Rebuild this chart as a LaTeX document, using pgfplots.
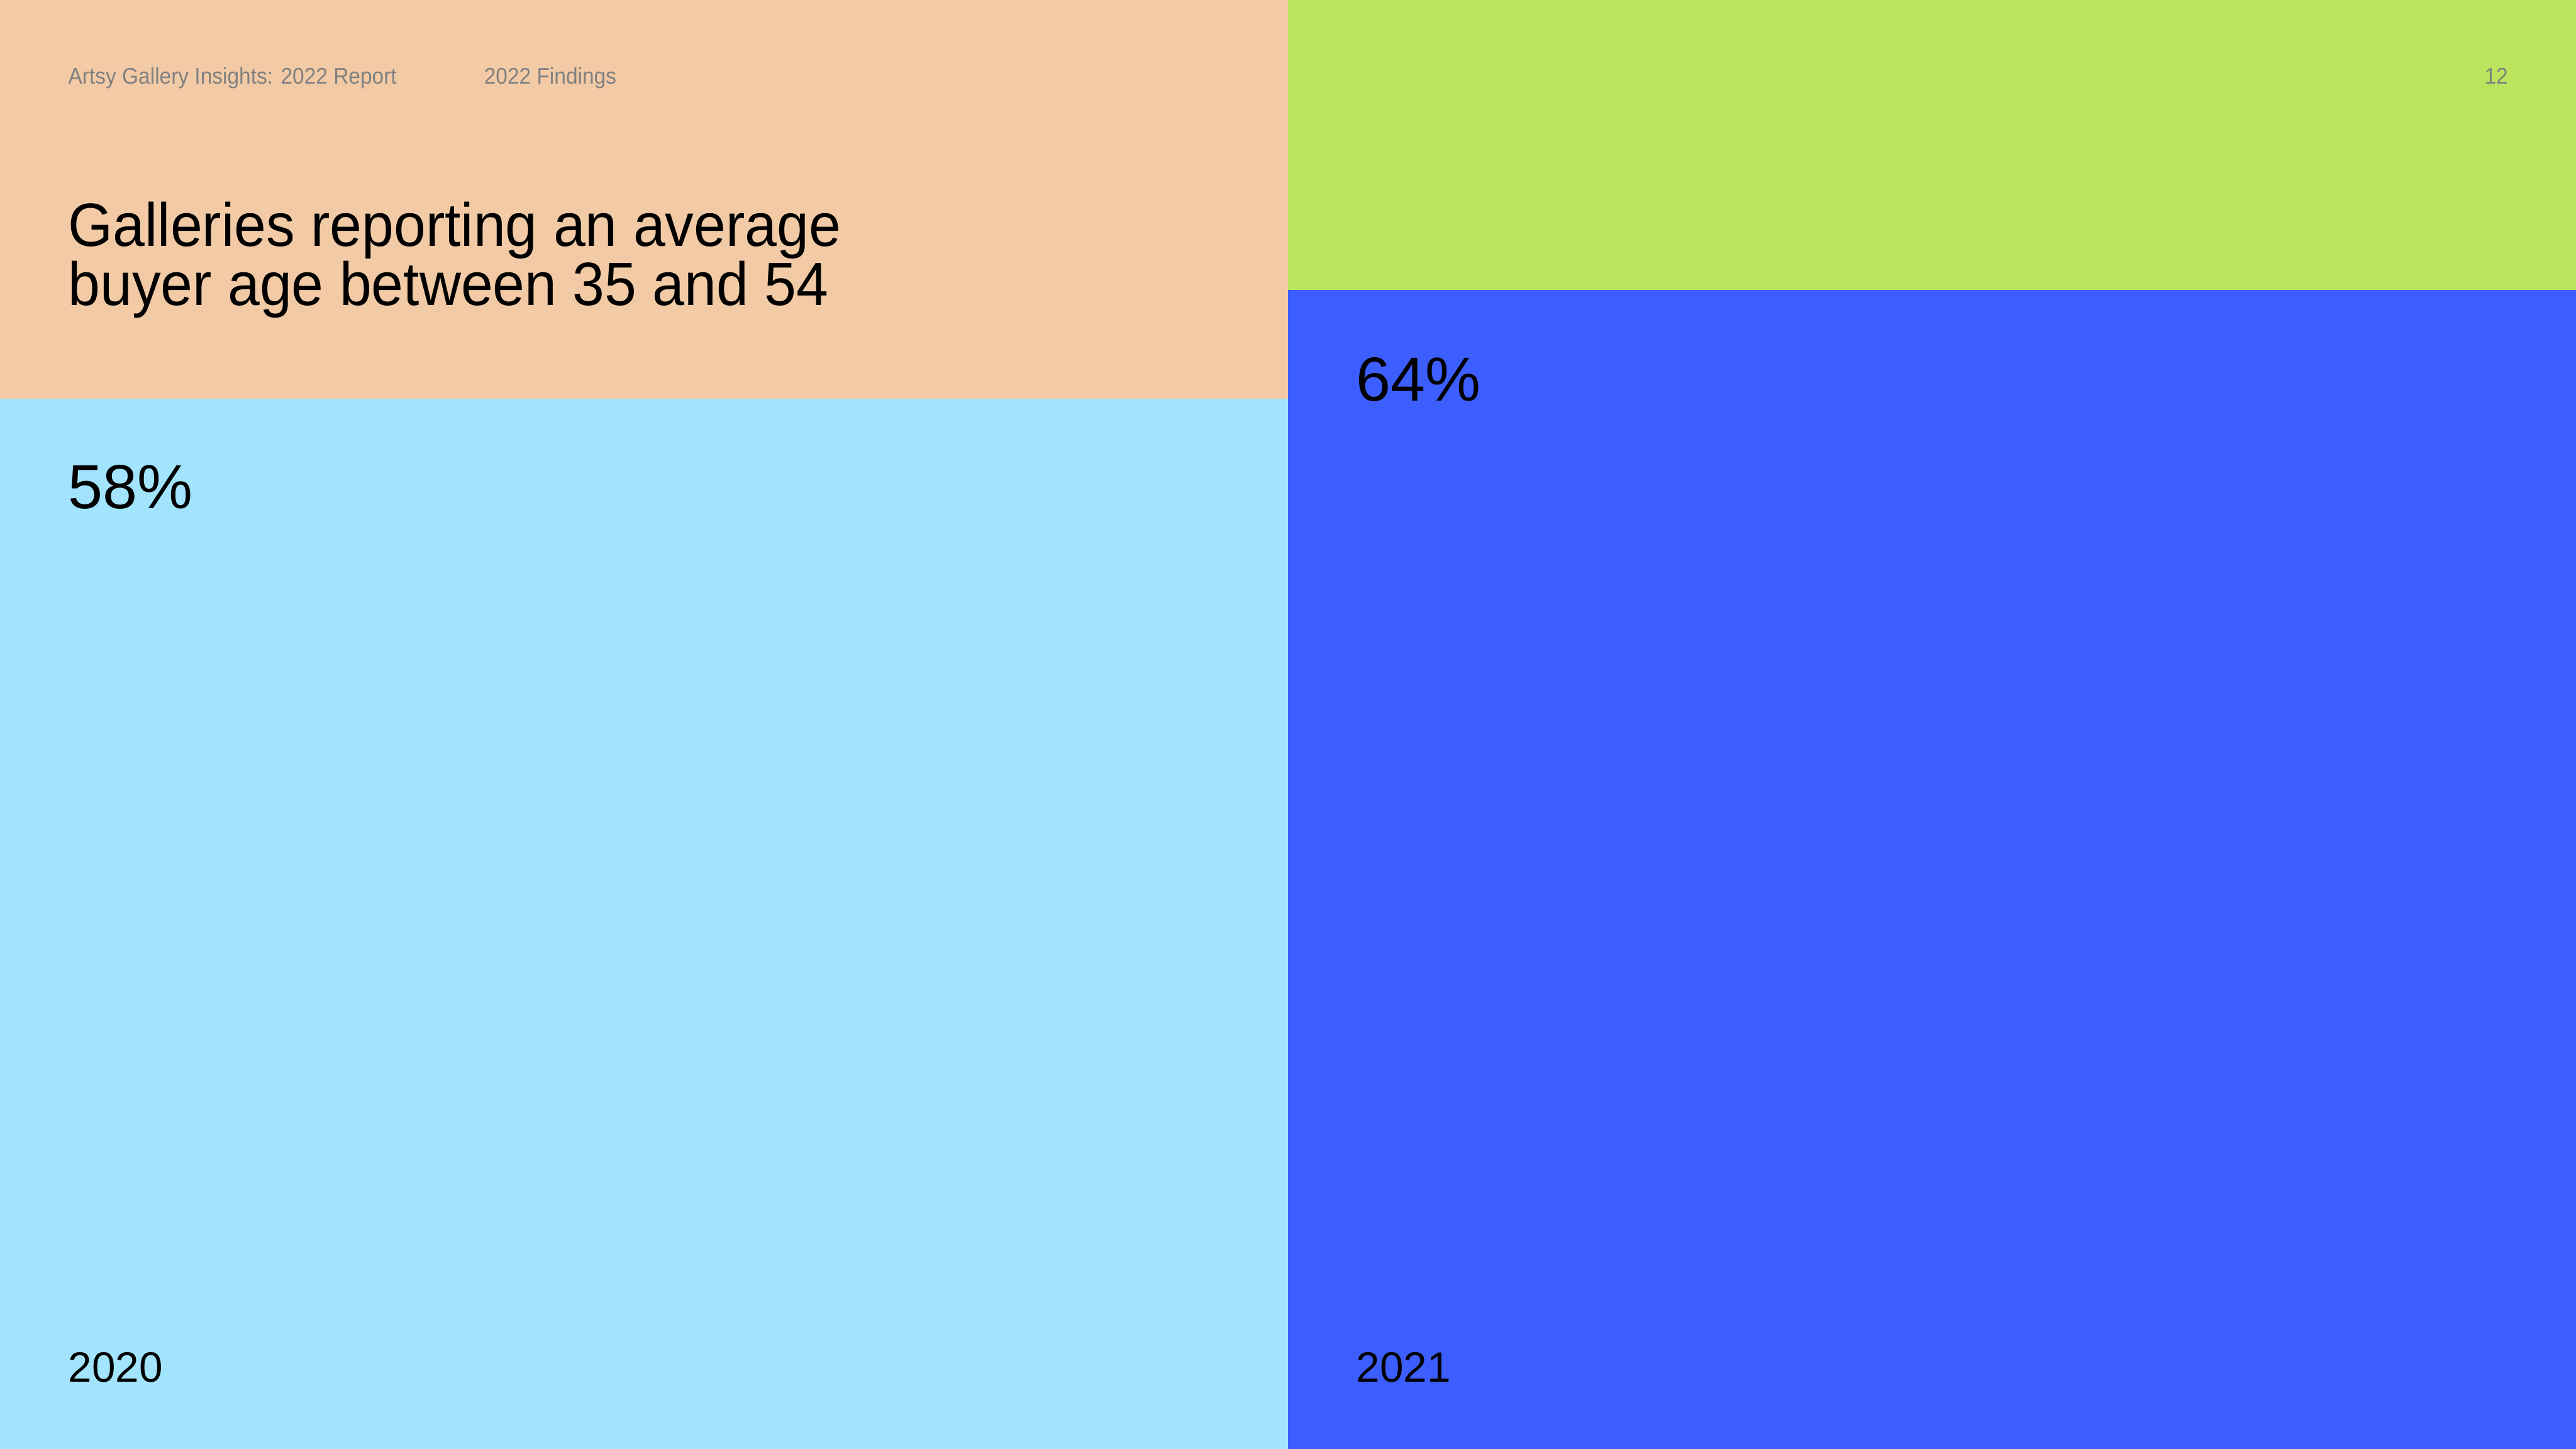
\documentclass[border=0pt]{standalone}
\usepackage{fontspec}
\setmainfont{Liberation Sans}[FakeStretch=0.94]
\newfontfamily\plainfont{Liberation Sans}
\newfontfamily\hdrfont{Liberation Sans}[FakeStretch=0.93]
\usepackage{pgfplots}
\pgfplotsset{compat=1.18}
\definecolor{peach}{RGB}{242,203,166}
\definecolor{lime}{RGB}{185,228,92}
\definecolor{skyb}{RGB}{162,227,254}
\definecolor{royal}{RGB}{61,94,255}
\definecolor{hdr}{RGB}{128,128,128}
\begin{document}
\begin{tikzpicture}
\begin{axis}[
  scale only axis, width=16cm, height=9cm,
  xmin=0, xmax=2, ymin=0, ymax=80,
  hide axis, ybar, bar width=1, clip=true,
]
\fill[peach] (axis cs:0,0) rectangle (axis cs:1,80);
\fill[lime] (axis cs:1,0) rectangle (axis cs:2,80);
\addplot[fill=skyb, draw=none, bar shift=0pt] coordinates {(0.5,58)};
\addplot[fill=royal, draw=none, bar shift=0pt] coordinates {(1.5,64)};
\node[anchor=base west, inner sep=0pt, text=hdr, font=\hdrfont\fontsize{4}{5}\selectfont] at (rel axis cs:0.0261,0.9422) {Artsy Gallery Insights: 2022 Report};
\node[anchor=base west, inner sep=0pt, text=hdr, font=\hdrfont\fontsize{4}{5}\selectfont] at (rel axis cs:0.1875,0.9422) {2022 Findings};
\node[anchor=base east, inner sep=0pt, text=hdr, font=\hdrfont\fontsize{4}{5}\selectfont] at (rel axis cs:0.9740,0.9422) {12};
\node[anchor=base west, inner sep=0pt, font=\fontsize{10.8}{10.6}\selectfont] at (rel axis cs:0.0261,0.8302) {Galleries reporting an average};
\node[anchor=base west, inner sep=0pt, font=\fontsize{10.8}{10.6}\selectfont] at (rel axis cs:0.0261,0.7891) {buyer age between 35 and 54};
\node[anchor=base west, inner sep=0pt, font=\plainfont\fontsize{11}{12}\selectfont] at (rel axis cs:0.0261,0.6491) {58\%};
\node[anchor=base west, inner sep=0pt, font=\plainfont\fontsize{11}{12}\selectfont] at (rel axis cs:0.5261,0.7234) {64\%};
\node[anchor=base west, inner sep=0pt, font=\plainfont\fontsize{7.5}{9}\selectfont] at (rel axis cs:0.0261,0.0460) {2020};
\node[anchor=base west, inner sep=0pt, font=\plainfont\fontsize{7.5}{9}\selectfont] at (rel axis cs:0.5261,0.0460) {2021};
\end{axis}
\end{tikzpicture}
\end{document}
